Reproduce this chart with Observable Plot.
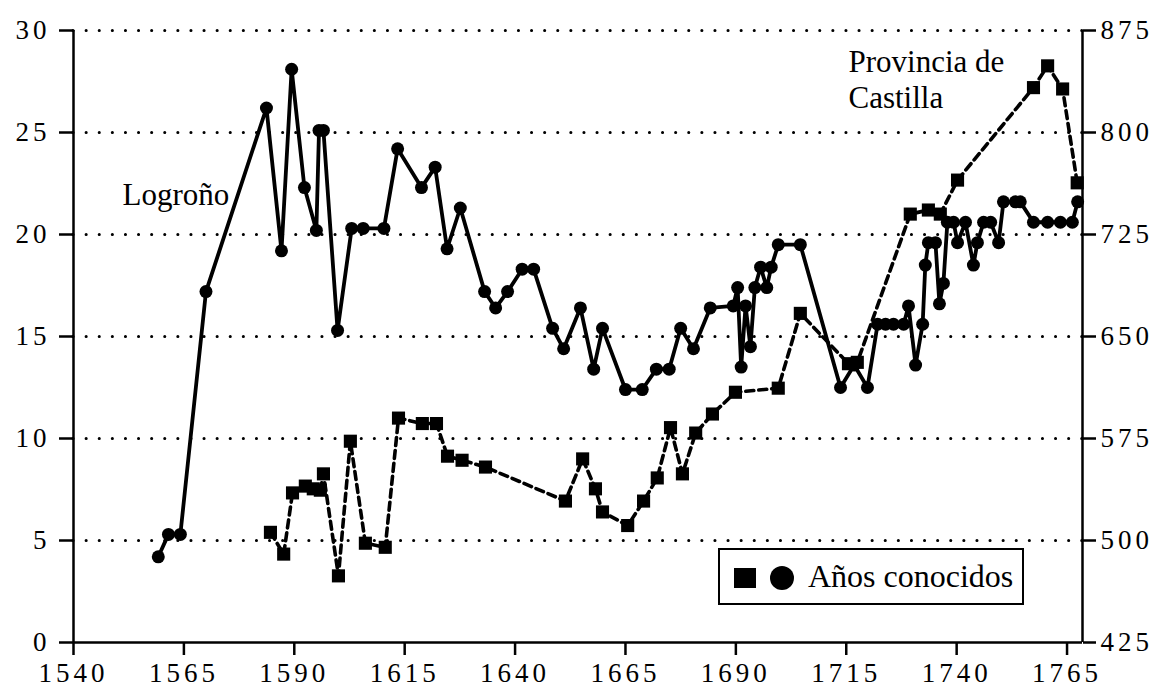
<!DOCTYPE html>
<html>
<head>
<meta charset="utf-8">
<script src="https://cdn.jsdelivr.net/npm/d3@7"></script>
<script src="https://cdn.jsdelivr.net/npm/@observablehq/plot@0.6"></script>
<style>
  html, body { margin: 0; padding: 0; background: #fff; }
  #wrap { position: relative; width: 1160px; height: 689px; overflow: hidden; font-family: "Liberation Serif", "Times New Roman", serif; }
  #wrap svg { position: absolute; left: 0; top: 0; }
  g[aria-label$="tick label"] { letter-spacing: 4px; }
  #legend { position: absolute; left: 718px; top: 548px; width: 306px; height: 57px; box-sizing: border-box;
            border: 2px solid #000; background: #fff; }
  #legend .sq { position: absolute; left: 14px; top: 18px; width: 22px; height: 20px; background: #000; }
  #legend .ci { position: absolute; left: 50px; top: 16px; width: 24px; height: 24px; border-radius: 50%; background: #000; }
  #legend .tx { position: absolute; left: 88px; top: 6px; font-size: 32px; line-height: 40px; color: #000; white-space: nowrap; }
</style>
</head>
<body>
<div id="wrap"></div>
<script>
// Logroño (left axis), years known
const logYears = [1559.2, 1561.5, 1564.2, 1570.0, 1583.7, 1587.1, 1589.4, 1592.3, 1595.0, 1595.6, 1596.6, 1599.8,
  1603.0, 1605.6, 1610.3, 1613.4, 1618.8, 1621.9, 1624.6, 1627.6, 1633.1, 1635.6, 1638.3, 1641.6, 1644.2,
  1648.5, 1651.0, 1654.8, 1657.8, 1659.8, 1665.0, 1668.8, 1672.0, 1674.9, 1677.5, 1680.4, 1684.2,
  1689.4, 1690.4, 1691.2, 1692.2, 1693.3, 1694.3, 1695.6, 1697.0, 1698.0, 1699.6, 1704.6,
  1713.7, 1716.8, 1719.8, 1722.1, 1723.9, 1725.7, 1728.0, 1729.1, 1730.7, 1732.3, 1732.9, 1733.6,
  1735.2, 1736.1, 1737.0, 1737.9, 1739.3, 1740.2, 1742.0, 1743.8, 1744.7, 1746.1, 1747.7, 1749.5,
  1750.6, 1753.3, 1754.4, 1757.4, 1760.6, 1763.5, 1766.2, 1767.4];
const logValues = [4.2, 5.3, 5.3, 17.2, 26.2, 19.2, 28.1, 22.3, 20.2, 25.1, 25.1, 15.3,
  20.3, 20.3, 20.3, 24.2, 22.3, 23.3, 19.3, 21.3, 17.2, 16.4, 17.2, 18.3, 18.3,
  15.4, 14.4, 16.4, 13.4, 15.4, 12.4, 12.4, 13.4, 13.4, 15.4, 14.4, 16.4,
  16.5, 17.4, 13.5, 16.5, 14.5, 17.4, 18.4, 17.4, 18.4, 19.5, 19.5,
  12.5, 13.6, 12.5, 15.6, 15.6, 15.6, 15.6, 16.5, 13.6, 15.6, 18.5, 19.6,
  19.6, 16.6, 17.6, 20.6, 20.6, 19.6, 20.6, 18.5, 19.6, 20.6, 20.6, 19.6,
  21.6, 21.6, 21.6, 20.6, 20.6, 20.6, 20.6, 21.6];

// Provincia de Castilla (right axis), years known
const casYears = [1584.6, 1587.6, 1589.6, 1592.5, 1594.3, 1595.9, 1596.6, 1600.0, 1602.7, 1606.1, 1610.6,
  1613.6, 1619.0, 1622.2, 1624.7, 1628.0, 1633.3, 1651.4, 1655.3, 1658.2, 1659.8, 1665.5, 1669.1,
  1672.2, 1675.2, 1677.9, 1680.9, 1684.7, 1689.9, 1699.6, 1704.6, 1715.5, 1717.5, 1729.5, 1733.6,
  1736.3, 1740.2, 1757.4, 1760.6, 1764.0, 1767.3];
const casValues = [506, 490, 535, 540, 538, 537, 549, 474, 573, 498, 495,
  590, 586, 586, 562, 559, 554, 529, 560, 538, 521, 511, 529,
  546, 583, 549, 579, 593, 609, 612, 667, 630, 631, 740, 743,
  740, 765, 833, 849, 832, 763];

// Axis ticks
const xTicks = [1540, 1565, 1590, 1615, 1640, 1665, 1690, 1715, 1740, 1765];
const leftTicks = [0, 5, 10, 15, 20, 25, 30];
const rightTickLabels = [425, 500, 575, 650, 725, 800, 875];
const gridValues = [5, 10, 15, 20, 25, 30];

// Series labels (anchored in data units)
const labelTexts = ["Logroño", "Provincia de\nCastilla"];
const labelYears = [1551.1, 1715.5];
const labelValues = [22.0, 27.65];

const xDomain = [1540, 1768.5];
const rightMin = rightTickLabels[0];
const rightPerLeft = (rightTickLabels[1] - rightTickLabels[0]) / (leftTicks[1] - leftTicks[0]);

const logrono = logYears.map((y, i) => ({year: y, v: logValues[i]}));
const castilla = casYears.map((y, i) => ({year: y, v: (casValues[i] - rightMin) / rightPerLeft}));
const labels = labelTexts.map((t, i) => ({text: t, year: labelYears[i], v: labelValues[i]}));

const chart = Plot.plot({
  width: 1160,
  height: 689,
  marginLeft: 73,
  marginRight: 78,
  marginTop: 30,
  marginBottom: 47,
  style: {fontFamily: "'Liberation Serif', 'Times New Roman', serif", fontSize: "27px", color: "#000", background: "transparent", overflow: "visible"},
  x: {domain: xDomain},
  y: {domain: [0, 30]},
  marks: [
    Plot.ruleY(gridValues, {stroke: "#000", strokeWidth: 3, strokeDasharray: "0.1,13", strokeLinecap: "round"}),
    Plot.axisX({ticks: xTicks, tickFormat: d => String(d), tickSize: 13, tickPadding: 7, strokeWidth: 2.5, label: null, fontSize: 27}),
    Plot.axisY({anchor: "left", ticks: leftTicks, tickFormat: d => String(d), tickSize: 14, tickPadding: 9, strokeWidth: 2.5, label: null, fontSize: 27}),
    Plot.axisY({anchor: "right", ticks: leftTicks, tickFormat: d => String(rightMin + rightPerLeft * d), tickSize: 13, tickPadding: 5, strokeWidth: 2.5, label: null, fontSize: 27}),
    Plot.ruleX(xDomain, {stroke: "#000", strokeWidth: 2.5}),
    Plot.ruleY([0], {stroke: "#000", strokeWidth: 2.5}),
    Plot.line(castilla, {x: "year", y: "v", stroke: "#000", strokeWidth: 3.6, strokeDasharray: "8,5"}),
    Plot.dot(castilla, {x: "year", y: "v", symbol: "square", r: 7.4, fill: "#000", stroke: "none"}),
    Plot.line(logrono, {x: "year", y: "v", stroke: "#000", strokeWidth: 3.8}),
    Plot.dot(logrono, {x: "year", y: "v", r: 6.5, fill: "#000", stroke: "none"}),
    Plot.text(labels, {x: "year", y: "v", text: "text", textAnchor: "start", lineAnchor: "middle", lineHeight: 1.16, fontSize: 31, fill: "#000"})
  ]
});

const wrap = document.getElementById("wrap");
wrap.appendChild(chart);
const legend = document.createElement("div");
legend.id = "legend";
legend.innerHTML = '<div class="sq"></div><div class="ci"></div><div class="tx">Años conocidos</div>';
wrap.appendChild(legend);
</script>
</body>
</html>
